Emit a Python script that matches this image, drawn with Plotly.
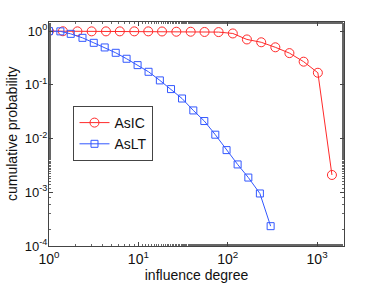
import plotly.graph_objects as go

# AsIC data
ic_x = [1, 1.43, 2.08, 3.0, 4.34, 6.2, 9.0, 12.9, 18.4, 26.6, 38.5, 55, 79, 114, 164, 237, 341, 490, 707, 1020, 1466]
ic_y = [1.0, 0.995, 0.99, 0.99, 0.99, 0.99, 0.99, 0.99, 0.985, 0.975, 0.975, 0.965, 0.96, 0.905, 0.70, 0.62, 0.50, 0.39, 0.27, 0.168, 0.0021]

# AsLT data
lt_x = [1, 1.34, 1.75, 2.37, 3.17, 4.2, 5.58, 7.38, 9.8, 13.0, 17.4, 23.2, 30.8, 41.2, 54.7, 72.6, 97, 129, 170, 229, 302]
lt_y = [1.0, 0.99, 0.89, 0.75, 0.606, 0.497, 0.395, 0.306, 0.233, 0.175, 0.121, 0.0834, 0.0557, 0.0334, 0.0212, 0.0118, 0.0061, 0.0033, 0.00188, 0.00095, 0.000234]

x_tickvals = [1, 10, 100, 1000]
x_ticktext = ["10<sup>0</sup>", "10<sup>1</sup>", "10<sup>2</sup>", "10<sup>3</sup>"]
y_tickvals = [1e-4, 1e-3, 1e-2, 1e-1, 1]
y_ticktext = ["10<sup>-4</sup>", "10<sup>-3</sup>", "10<sup>-2</sup>", "10<sup>-1</sup>", "10<sup>0</sup>"]

red = "#ff2a2a"
blue = "#3358ff"

fig = go.Figure()
fig.add_trace(go.Scatter(
    x=ic_x, y=ic_y, mode="lines+markers", name="AsIC",
    line=dict(color=red, width=1),
    marker=dict(symbol="circle-open", size=9, color=red, line=dict(width=1, color=red)),
))
fig.add_trace(go.Scatter(
    x=lt_x, y=lt_y, mode="lines+markers", name="AsLT",
    line=dict(color=blue, width=1),
    marker=dict(symbol="square-open", size=7, color=blue, line=dict(width=1, color=blue)),
))

axis_common = dict(
    type="log", automargin=False,
    showgrid=False, zeroline=False,
    showline=True, linecolor="#444", linewidth=1, mirror="ticks",
    ticks="inside", ticklen=4, tickcolor="#444",
    tickfont=dict(family="Liberation Sans, Arial, sans-serif", size=14, color="#111"),
    minor=dict(ticks="inside", ticklen=2, tickcolor="#666", showgrid=False),
)

fig.update_layout(
    width=382, height=283,
    margin=dict(l=49, r=38, t=22, b=37),
    paper_bgcolor="white", plot_bgcolor="white",
    font=dict(family="Liberation Sans, Arial, sans-serif", size=14, color="#111"),
    showlegend=True,
    legend=dict(
        x=0.083, y=0.625, xanchor="left", yanchor="top",
        bordercolor="#444", borderwidth=1, bgcolor="white",
        font=dict(size=14), tracegroupgap=0,
    ),
    xaxis=dict(
        **axis_common,
        range=[0, 3.301],
        tickvals=x_tickvals, ticktext=x_ticktext, ticklabelstandoff=0,
        title=dict(text="influence degree", standoff=0, font=dict(size=14)),
    ),
    yaxis=dict(
        **axis_common,
        range=[-4, 0.17],
        tickvals=y_tickvals, ticktext=y_ticktext, ticklabelstandoff=-2,
    ),
    annotations=[dict(
        text="cumulative probability", textangle=-90,
        xref="paper", yref="paper", x=0, y=0.5, xshift=-37,
        xanchor="center", yanchor="middle", showarrow=False,
        font=dict(size=14),
    )],
)
fig.update_yaxes(tickfont=dict(size=13))

fig.write_html("out.html", config={"displayModeBar": False},
               post_script="document.body.style.margin='0px';")
